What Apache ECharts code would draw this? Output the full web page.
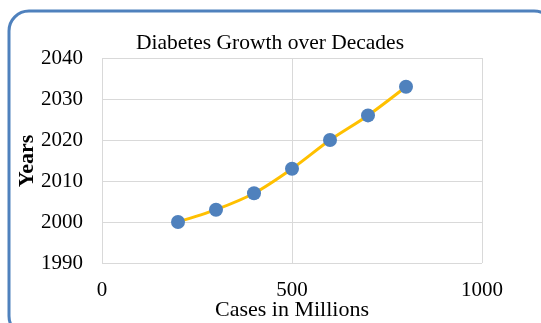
<!DOCTYPE html>
<html>
<head>
<meta charset="utf-8">
<script src="https://cdn.jsdelivr.net/npm/echarts@6/dist/echarts.min.js"></script>
<style>
  html, body { margin: 0; padding: 0; background: #fff; }
  #chart { width: 541px; height: 323px; }
</style>
</head>
<body>
<div id="chart"></div>
<script>
// cases (millions) against year
var cases = [200, 300, 400, 500, 600, 700, 800];
var years = [2000, 2003, 2007, 2013, 2020, 2026, 2033];

var points = [];
for (var i = 0; i < cases.length; i++) {
    points.push([cases[i], years[i]]);
}

var font = 'Liberation Serif';
var myChart = echarts.init(document.getElementById('chart'));
myChart.setOption({
    animation: false,
    title: {
        text: 'Diabetes Growth over Decades',
        left: 265,
        textAlign: 'center',
        top: 27,
        textStyle: {fontFamily: font, fontSize: 21.5, fontWeight: 'normal', color: '#000'}
    },
    graphic: [{
        type: 'rect',
        shape: {x: 9, y: 11, width: 545, height: 325, r: 20},
        style: {fill: 'none', stroke: '#4f81bd', lineWidth: 3}
    }, {
        // axis titles placed by hand, the v6 name layout kept drifting
        type: 'text',
        x: 292, y: 310,
        style: {text: 'Cases in Millions', font: '22px "Liberation Serif"', fill: '#000',
                align: 'center', verticalAlign: 'middle'}
    }, {
        type: 'text',
        x: 27, y: 161,
        rotation: Math.PI / 2,
        style: {text: 'Years', font: 'bold 22px "Liberation Serif"', fill: '#000',
                align: 'center', verticalAlign: 'middle'}
    }],
    grid: {left: 102, right: 59, top: 58, bottom: 60, containLabel: false, outerBoundsMode: 'none'},
    xAxis: {
        type: 'value',
        min: 0, max: 1000, interval: 500,
        axisLine: {show: false},
        axisTick: {show: false},
        axisLabel: {fontFamily: font, fontSize: 21, color: '#000', margin: 17, formatter: function (v) { return String(v); }},
        splitLine: {show: true, lineStyle: {color: '#d9d9d9', width: 1}}
    },
    yAxis: {
        type: 'value',
        min: 1990, max: 2040, interval: 10,
        axisLine: {show: false},
        axisTick: {show: false},
        axisLabel: {fontFamily: font, fontSize: 21, color: '#000', margin: 19, formatter: function (v) { return String(v); }},
        splitLine: {show: true, lineStyle: {color: '#d9d9d9', width: 1}}
    },
    series: [{
        type: 'line',
        data: points,
        smooth: 0.3,
        symbol: 'circle',
        symbolSize: 14,
        lineStyle: {color: '#ffc000', width: 3},
        itemStyle: {color: '#4f81bd'}
    }]
});
</script>
</body>
</html>
